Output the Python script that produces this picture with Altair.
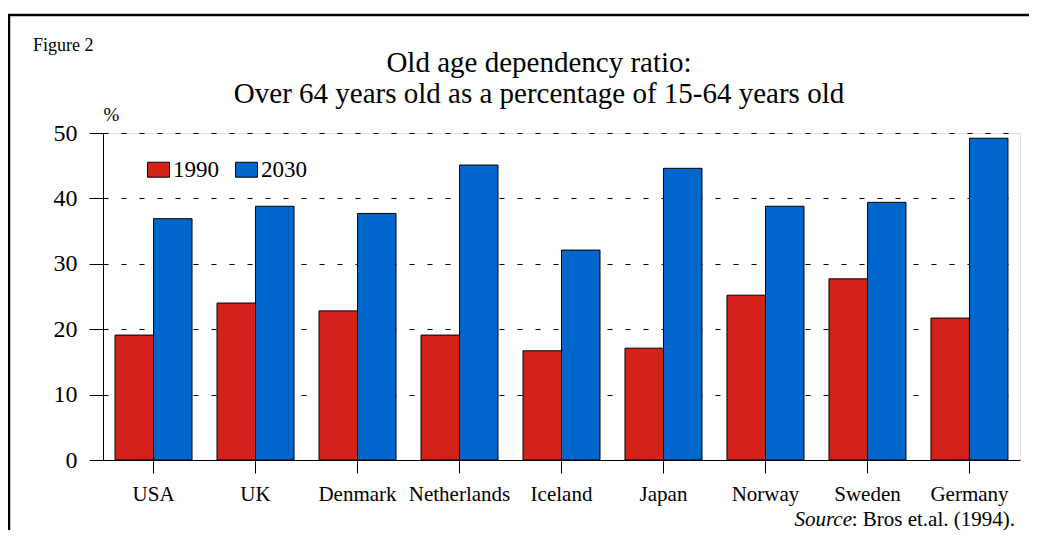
import altair as alt
import pandas as pd

countries = ["USA", "UK", "Denmark", "Netherlands", "Iceland", "Japan", "Norway", "Sweden", "Germany"]
ratio_1990 = [19.1, 24.0, 22.8, 19.1, 16.7, 17.1, 25.2, 27.7, 21.7]
ratio_2030 = [36.9, 38.8, 37.7, 45.1, 32.1, 44.6, 38.8, 39.4, 49.2]
years = ["1990", "2030"]
y_ticks = [0, 10, 20, 30, 40, 50]
title_lines = ["Old age dependency ratio:", "Over 64 years old as a percentage of 15-64 years old"]
figure_label = "Figure 2"
source_italic = "Source"
source_rest = ": Bros et.al. (1994)."

rows = []
for c, a, b in zip(countries, ratio_1990, ratio_2030):
    rows.append({"country": c, "year": "1990", "value": a})
    rows.append({"country": c, "year": "2030", "value": b})
df = pd.DataFrame(rows)

FONT = "Liberation Serif, Times New Roman, serif"
W, H = 917, 327
OX, OY = 103, 133  # plot origin on page

bars = alt.Chart(df).mark_bar(stroke="black", strokeWidth=1).encode(
    x=alt.X("country:N", sort=countries,
            scale=alt.Scale(paddingInner=0.245, paddingOuter=0.118),
            axis=alt.Axis(title=None, labelAngle=0, labelFont=FONT, labelFontSize=21,
                          labelColor="black", tickSize=13, tickColor="black",
                          domainColor="black", labelPadding=10, grid=False)),
    xOffset=alt.XOffset("year:N", sort=years,
                        scale=alt.Scale(paddingInner=0, paddingOuter=0)),
    y=alt.Y("value:Q", scale=alt.Scale(domain=[0, 50], nice=False),
            axis=alt.Axis(values=y_ticks, title="%", titleAngle=0, titleX=0, titleY=-9,
                          titleAlign="left", titleBaseline="bottom", titleFont=FONT,
                          titleFontSize=19, titleFontWeight="normal", titleColor="black",
                          labelFont=FONT, labelFontSize=24, labelColor="black",
                          labelPadding=12, tickSize=14, tickColor="black",
                          domainColor="black", grid=True, gridDash=[5, 13],
                          gridColor="black", gridWidth=1, gridOpacity=1)),
    color=alt.Color("year:N", sort=years,
                    scale=alt.Scale(domain=years, range=["#D42119", "#0066CC"]),
                    legend=alt.Legend(title=None, orient="none", legendX=44, legendY=25,
                                      direction="horizontal",
                                      symbolType="M-1,-0.68H1V0.68H-1Z", symbolSize=484,
                                      symbolStrokeColor="black", symbolStrokeWidth=1,
                                      symbolOpacity=1,
                                      labelFont=FONT, labelFontSize=23, labelColor="black",
                                      labelOffset=3, columnPadding=14)),
)

one = pd.DataFrame({"k": [0]})
frame = alt.Chart(one).mark_rect(fillOpacity=0, stroke="black", strokeWidth=2.5).encode(
    x=alt.value(9 - OX), x2=alt.value(1045 - OX),
    y=alt.value(15 - OY), y2=alt.value(560 - OY))

def txt(s, x, y, size, align="left", style="normal"):
    return alt.Chart(pd.DataFrame({"t": [s]})).mark_text(
        font=FONT, fontSize=size, align=align, baseline="alphabetic",
        color="black", fontStyle=style).encode(
        x=alt.value(x - OX), y=alt.value(y - OY), text="t:N")

texts = [
    txt(title_lines[0], 539, 72, 29, "center"),
    txt(title_lines[1], 539, 103, 29, "center"),
    txt(figure_label, 33, 51, 18),
    txt(source_italic, 852, 526, 21, "right", "italic"),
    txt(source_rest, 1015, 526, 21, "right"),
]

chart = alt.layer(frame, bars, *texts).properties(
    width=W, height=H,
    padding={"left": OX - 8, "top": OY - 8, "right": 1021 - (OX - 8) - W, "bottom": 522 - (OY - 8) - H},
    autosize=alt.AutoSizeParams(type="none"),
).configure_view(stroke="#808080", strokeWidth=1).configure(background="white")

chart.save("out.html", embed_options={"renderer": "svg", "actions": False})
